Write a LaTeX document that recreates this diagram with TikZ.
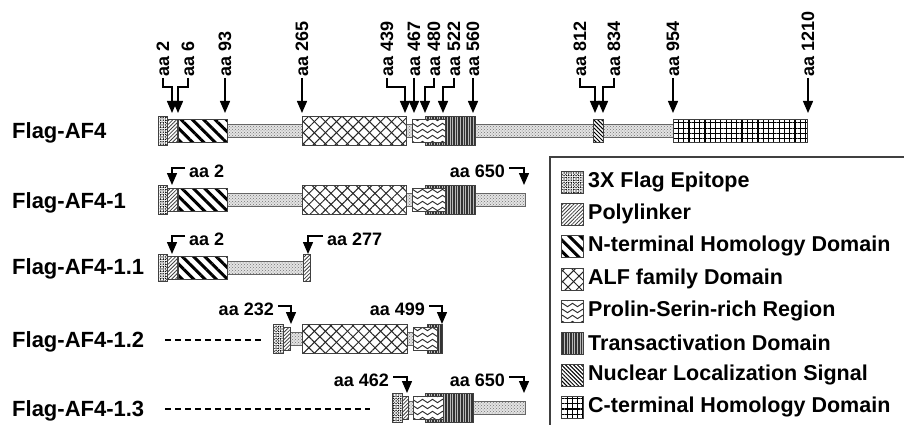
\documentclass[tikz,border=0pt]{standalone}
\usepackage{fontspec}
\setmainfont{Liberation Sans}
\usepackage{tikz}
\usetikzlibrary{arrows.meta,patterns,patterns.meta}

% wavy lines for the Prolin-Serin-rich region
\tikzdeclarepattern{
  name=wavy,
  type=uncolored,
  bounding box={(0pt,-3pt) and (10pt,3pt)},
  tile size={(10pt,6pt)},
  code={
    \draw[line width=0.9pt] (0pt,0pt) sin (2.5pt,1.7pt) cos (5pt,0pt)
      sin (7.5pt,-1.7pt) cos (10pt,0pt);
  }
}

% one domain box of a row: style, from, to, half height
\newcommand{\dom}[4]{\path[#1] (#2,-#4) rectangle (#3,#4);}

\begin{document}
\begin{tikzpicture}[x=1pt,y=-1pt,
    dbox/.style={postaction={draw=black!75,line width=0.9pt}},
    track/.style={fill=gray!22,postaction={pattern=crosshatch dots,pattern color=gray!90!black},
                  postaction={draw=black!60,line width=0.8pt}},
    flagd/.style={fill=white,postaction={pattern={Dots[distance=2.4pt,radius=0.75pt]},pattern color=black},
                  postaction={pattern=crosshatch dots,pattern color=black!80},dbox},
    polyd/.style={fill=white,postaction={pattern={Lines[angle=45,distance=2.6pt,line width=0.8pt]},
                  pattern color=black!75},dbox},
    nthd/.style={fill=white,postaction={pattern={Lines[angle=-45,distance=8pt,line width=3pt]},
                  pattern color=black},dbox},
    alfd/.style={fill=white,
                  postaction={pattern={Lines[angle=45,distance=7.8pt,line width=1pt]},pattern color=black!85},
                  postaction={pattern={Lines[angle=-45,distance=7.8pt,line width=1pt]},pattern color=black!85},dbox},
    psrd/.style={fill=white,postaction={pattern=wavy,pattern color=black!85},dbox},
    tadd/.style={fill=black!80,postaction={pattern={Lines[angle=90,distance=2.6pt,line width=0.6pt]},
                  pattern color=gray!55},dbox},
    nlsd/.style={fill=white,postaction={pattern={Lines[angle=-45,distance=2.8pt,line width=1pt]},
                  pattern color=black},dbox},
    cthd/.style={fill=white,postaction={pattern={Hatch[distance=5.3pt,line width=1.2pt]},
                  pattern color=black},dbox},
    rowlab/.style={font=\fontsize{22}{24}\selectfont\bfseries,anchor=base west,inner sep=0pt},
    aalab/.style={font=\fontsize{18}{20}\selectfont\bfseries,inner sep=1pt},
    hooklab/.style={aalab,inner xsep=4pt},
    leglab/.style={font=\fontsize{21.5}{23}\selectfont\bfseries,anchor=west,inner sep=0pt},
    cut/.style={line width=1.4pt,-{Triangle[length=12pt,width=10pt]}},
    dashline/.style={line width=1.3pt,dash pattern=on 6pt off 4pt}]
  \useasboundingbox (0,0) rectangle (904,425);

  % construct names
  \node[rowlab] (r0) at (12,139) {Flag-AF4};
  \node[rowlab] (r1) at (12,208) {Flag-AF4-1};
  \node[rowlab] (r2) at (12,274) {Flag-AF4-1.1};
  \node[rowlab] (r3) at (12,347) {Flag-AF4-1.2};
  \node[rowlab] (r4) at (12,416) {Flag-AF4-1.3};

  % Flag-AF4
  \begin{scope}[shift={(0,131)}]
    \dom{track}{175}{673}{6.5}
    \dom{flagd}{158}{167}{14.5}
    \dom{polyd}{167}{177}{11.5}
    \dom{nthd}{178}{227}{11.5}
    \dom{alfd}{302}{406}{14.5}
    \dom{tadd}{425}{475}{14.5}
    \dom{psrd}{412}{445}{11.5}
    \dom{nlsd}{593}{603}{11.5}
    \dom{cthd}{673}{807}{11.5}
  \end{scope}
  % Flag-AF4-1
  \begin{scope}[shift={(0,199.5)}]
    \dom{track}{175}{525}{6.5}
    \dom{flagd}{158}{167}{14.5}
    \dom{polyd}{167}{177}{11.5}
    \dom{nthd}{178}{227}{11.5}
    \dom{alfd}{302}{406}{14.5}
    \dom{tadd}{425}{475}{14.5}
    \dom{psrd}{412}{445}{11.5}
  \end{scope}
  % Flag-AF4-1.1
  \begin{scope}[shift={(0,268)}]
    \dom{track}{175}{305}{6.5}
    \dom{flagd}{158}{167}{13.5}
    \dom{polyd}{167}{177}{11.5}
    \dom{nthd}{178}{227}{11.5}
    \dom{polyd}{303}{310}{13.5}
  \end{scope}
  % Flag-AF4-1.2
  \begin{scope}[shift={(0,339)}]
    \dom{track}{288}{430}{6.5}
    \dom{flagd}{273}{283}{14.5}
    \dom{polyd}{283}{290}{11.5}
    \dom{alfd}{302}{407}{14.5}
    \dom{tadd}{427}{442}{14.5}
    \dom{psrd}{413}{437}{11.5}
  \end{scope}
  % Flag-AF4-1.3
  \begin{scope}[shift={(0,408)}]
    \dom{track}{405}{525}{6.5}
    \dom{flagd}{392}{402}{14.5}
    \dom{polyd}{402}{408}{11.5}
    \dom{tadd}{425}{473}{14.5}
    \dom{psrd}{413}{443}{11.5}
  \end{scope}

  % missing N-terminus
  \coordinate (s3) at (165,340);
  \coordinate (e3) at (262,340);
  \coordinate (s4) at (165,409);
  \coordinate (e4) at (370,409);
  \draw[dashline] (s3) -- (e3);
  \draw[dashline] (s4) -- (e4);

  % positions on Flag-AF4
  \node[aalab,rotate=90,anchor=west] (a2) at (163,78) {aa 2};
  \node[aalab,rotate=90,anchor=west] (a6) at (188,78) {aa 6};
  \node[aalab,rotate=90,anchor=west] (a93) at (225,78) {aa 93};
  \node[aalab,rotate=90,anchor=west] (a265) at (302,78) {aa 265};
  \node[aalab,rotate=90,anchor=west] (a439) at (387,78) {aa 439};
  \node[aalab,rotate=90,anchor=west] (a467) at (414,78) {aa 467};
  \node[aalab,rotate=90,anchor=west] (a480) at (434,78) {aa 480};
  \node[aalab,rotate=90,anchor=west] (a522) at (454,78) {aa 522};
  \node[aalab,rotate=90,anchor=west] (a560) at (473,78) {aa 560};
  \node[aalab,rotate=90,anchor=west] (a812) at (580,78) {aa 812};
  \node[aalab,rotate=90,anchor=west] (a834) at (614,78) {aa 834};
  \node[aalab,rotate=90,anchor=west] (a954) at (673,78) {aa 954};
  \node[aalab,rotate=90,anchor=west] (a1210) at (808,78) {aa 1210};
  \coordinate (t2) at (172,113);
  \coordinate (t6) at (178,113);
  \coordinate (t93) at (225,113);
  \coordinate (t265) at (302,113);
  \coordinate (t439) at (405,113);
  \coordinate (t467) at (414,113);
  \coordinate (t480) at (425,113);
  \coordinate (t522) at (443,113);
  \coordinate (t560) at (473,113);
  \coordinate (t812) at (595,113);
  \coordinate (t834) at (603,113);
  \coordinate (t954) at (673,113);
  \coordinate (t1210) at (808,113);
  \draw[cut] (a2.west) -- ++(0,9) -| (t2);
  \draw[cut] (a6.west) -- ++(0,9) -| (t6);
  \draw[cut] (a93.west) -- (t93);
  \draw[cut] (a265.west) -- (t265);
  \draw[cut] (a439.west) -- ++(0,9) -| (t439);
  \draw[cut] (a467.west) -- (t467);
  \draw[cut] (a480.west) -- ++(0,9) -| (t480);
  \draw[cut] (a522.west) -- ++(0,9) -| (t522);
  \draw[cut] (a560.west) -- (t560);
  \draw[cut] (a812.west) -- ++(0,9) -| (t812);
  \draw[cut] (a834.west) -- ++(0,9) -| (t834);
  \draw[cut] (a954.west) -- (t954);
  \draw[cut] (a1210.west) -- (t1210);

  % ends of the shorter constructs
  \node[hooklab,anchor=west] (b1s) at (185,171) {aa 2};
  \node[hooklab,anchor=east] (b1e) at (509,171) {aa 650};
  \node[hooklab,anchor=west] (b2s) at (185,239) {aa 2};
  \node[hooklab,anchor=west] (b2e) at (323,239) {aa 277};
  \node[hooklab,anchor=east] (b3s) at (278,309) {aa 232};
  \node[hooklab,anchor=east] (b3e) at (429,309) {aa 499};
  \node[hooklab,anchor=east] (b4s) at (393,380) {aa 462};
  \node[hooklab,anchor=east] (b4e) at (509,380) {aa 650};
  \coordinate (u1s) at (172,185);
  \coordinate (u1e) at (524,185);
  \coordinate (u2s) at (172,254);
  \coordinate (u2e) at (308,254);
  \coordinate (u3s) at (291,324);
  \coordinate (u3e) at (442,324);
  \coordinate (u4s) at (407,393);
  \coordinate (u4e) at (524,393);
  \draw[cut] ([yshift=3pt]b1s.west) -| (u1s);
  \draw[cut] ([yshift=3pt]b1e.east) -| (u1e);
  \draw[cut] ([yshift=3pt]b2s.west) -| (u2s);
  \draw[cut] ([yshift=3pt]b2e.west) -| (u2e);
  \draw[cut] ([yshift=3pt]b3s.east) -| (u3s);
  \draw[cut] ([yshift=3pt]b3e.east) -| (u3e);
  \draw[cut] ([yshift=3pt]b4s.east) -| (u4s);
  \draw[cut] ([yshift=3pt]b4e.east) -| (u4e);

  % legend
  \draw[black!75,line width=1.4pt] (550,430) |- (910,157);
  \path[flagd] (561,171) rectangle (583,193);
  \node[leglab] (l1) at (588,182) {3X Flag Epitope};
  \path[polyd] (561,203) rectangle (583,225);
  \node[leglab] (l2) at (588,214) {Polylinker};
  \path[nthd] (561,235) rectangle (583,257);
  \node[leglab] (l3) at (588,246) {N-terminal Homology Domain};
  \path[alfd] (561,268) rectangle (583,290);
  \node[leglab] (l4) at (588,279) {ALF family Domain};
  \path[psrd] (561,300) rectangle (583,322);
  \node[leglab] (l5) at (588,311) {Prolin-Serin-rich Region};
  \path[tadd] (561,332) rectangle (583,354);
  \node[leglab] (l6) at (588,343) {Transactivation Domain};
  \path[nlsd] (561,364) rectangle (583,386);
  \node[leglab] (l7) at (588,375) {Nuclear Localization Signal};
  \path[cthd] (561,396) rectangle (583,418);
  \node[leglab] (l8) at (588,407) {C-terminal Homology Domain};
\end{tikzpicture}
\end{document}
